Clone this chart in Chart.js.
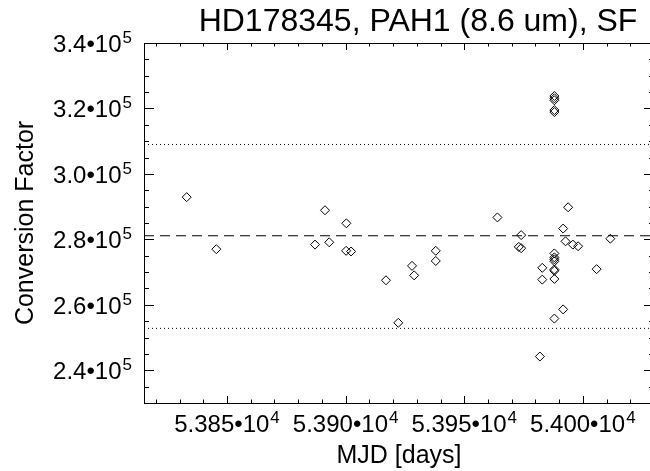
<!DOCTYPE html>
<html>
<head>
<meta charset="utf-8">
<script src="https://cdn.jsdelivr.net/npm/chart.js@4.4.0/dist/chart.umd.min.js"></script>
<style>
  html, body { margin: 0; padding: 0; background: #fff; overflow: hidden; }
  #wrap { width: 650px; height: 471px; overflow: hidden; }
</style>
</head>
<body>
<div id="wrap"><canvas id="chart" width="660" height="471"></canvas></div>
<script>
const mjd = [
  53833, 53845.5, 53891.3, 53900.3, 53887.1, 53893.1, 53900.2, 53902.3,
  53917, 53922.2, 53928, 53928.9, 53938, 53938, 53964, 53974, 53973, 53974,
  53982.9, 53982.9, 53981.9,
  53988, 53988, 53988, 53988, 53988, 53988, 53988, 53988,
  53988, 53988, 53988, 53988, 53988,
  53991.7, 53991.7, 53993.8, 53992.7, 53995.8, 53998, 54005.8, 54011.6
];
const factor = [
  292900, 277000, 288900, 284900, 278400, 279100, 276500, 276300,
  267500, 254500, 271900, 269000, 276500, 273400, 286700, 281300, 277700, 277300,
  271300, 267700, 244200,
  275700, 274500, 273900, 273300, 270800, 270400, 267900, 255800,
  323800, 323100, 322500, 319500, 318900,
  258600, 283300, 289800, 279400, 278400, 277900, 270900, 280200
];

// mean and +/- limits
const meanValue = 281100;
const upperLimit = 309000;
const lowerLimit = 252800;

const xTicks = [53850, 53900, 53950, 54000];
const yTicks = [240000, 260000, 280000, 300000, 320000, 340000];
const xRange = [53815, 54030];
const yRange = [230000, 340000];
const xMinorStep = 10;
const yMinorStep = 5000;

const titleText = 'HD178345, PAH1 (8.6 um), SF';
const FONT = '"Liberation Sans", Arial, Helvetica, sans-serif';

function hline(value, dash) {
  return {
    type: 'line',
    data: [{ x: xRange[0], y: value }, { x: xRange[1], y: value }],
    borderColor: '#000',
    borderWidth: 1,
    borderDash: dash,
    pointRadius: 0,
    fill: false,
  };
}

// "a•10" with a raised exponent
function drawPow(ctx, main, exp, x, baseline, align) {
  ctx.font = '24px ' + FONT;
  const w1 = ctx.measureText(main).width;
  ctx.font = '17px ' + FONT;
  const w2 = ctx.measureText(exp).width + 1;
  const total = w1 + w2;
  let left = x;
  if (align === 'right') left = x - total;
  if (align === 'center') left = x - total / 2;
  ctx.textAlign = 'left';
  ctx.textBaseline = 'alphabetic';
  ctx.font = '24px ' + FONT;
  ctx.fillText(main, left, baseline);
  ctx.font = '17px ' + FONT;
  ctx.fillText(exp, left + w1 + 1, baseline - 9);
}

// box, inward ticks on all four sides, tick labels and the title
const framePlugin = {
  id: 'frame',
  afterDraw(chart) {
    const { ctx, chartArea: a, scales } = chart;
    const xs = scales.x, ys = scales.y;
    ctx.save();
    ctx.strokeStyle = '#000';
    ctx.lineWidth = 1;
    ctx.strokeRect(a.left + 0.5, a.top + 0.5, a.right - a.left, a.bottom - a.top);

    ctx.beginPath();
    for (let v = xRange[0] - (xRange[0] % xMinorStep); v <= xRange[1]; v += xMinorStep) {
      if (v < xRange[0]) continue;
      const len = v % 50 === 0 ? 7 : 3.5;
      const px = Math.round(xs.getPixelForValue(v)) + 0.5;
      ctx.moveTo(px, a.bottom); ctx.lineTo(px, a.bottom - len);
      ctx.moveTo(px, a.top); ctx.lineTo(px, a.top + len);
    }
    for (let v = yRange[0]; v <= yRange[1]; v += yMinorStep) {
      const len = v % 20000 === 0 ? 10 : 5;
      const py = Math.round(ys.getPixelForValue(v)) + 0.5;
      ctx.moveTo(a.left, py); ctx.lineTo(a.left + len, py);
      ctx.moveTo(a.right, py); ctx.lineTo(a.right - len, py);
    }
    ctx.stroke();

    ctx.fillStyle = '#000';
    for (const v of yTicks) {
      const py = ys.getPixelForValue(v);
      drawPow(ctx, (v / 1e5).toFixed(1) + '•10', '5', a.left - 12, py + 9, 'right');
    }
    for (const v of xTicks) {
      const px = xs.getPixelForValue(v);
      drawPow(ctx, (v / 1e4).toFixed(3) + '•10', '4', px, a.bottom + 29, 'center');
    }

    ctx.font = '32px ' + FONT;
    ctx.textAlign = 'center';
    ctx.textBaseline = 'alphabetic';
    ctx.fillText(titleText, 418, 31);
    ctx.restore();
  },
};

new Chart(document.getElementById('chart'), {
  type: 'scatter',
  data: {
    datasets: [
      {
        label: 'SF',
        data: mjd.map((m, i) => ({ x: m, y: factor[i] })),
        pointStyle: 'rectRot',
        pointRadius: 4.5,
        borderColor: '#000',
        backgroundColor: 'rgba(0,0,0,0)',
        borderWidth: 1,
      },
      hline(meanValue, [10, 6]),
      hline(upperLimit, [1, 3]),
      hline(lowerLimit, [1, 3]),
    ],
  },
  plugins: [framePlugin],
  options: {
    responsive: false,
    devicePixelRatio: 1,
    animation: false,
    layout: { padding: { left: 0, right: 6, top: 43, bottom: 0 } },
    plugins: { legend: { display: false }, tooltip: { enabled: false } },
    scales: {
      x: {
        type: 'linear',
        min: xRange[0],
        max: xRange[1],
        grid: { display: false, drawTicks: false },
        border: { display: false },
        afterBuildTicks: (scale) => { scale.ticks = xTicks.map((v) => ({ value: v })); },
        afterFit: (scale) => { scale.height = 68; },
        ticks: { display: false },
        title: {
          display: true,
          text: 'MJD [days]',
          color: '#000',
          font: { family: FONT, size: 25 },
          padding: { top: 0, bottom: 0 },
        },
      },
      y: {
        type: 'linear',
        min: yRange[0],
        max: yRange[1],
        grid: { display: false, drawTicks: false },
        border: { display: false },
        afterBuildTicks: (scale) => { scale.ticks = yTicks.map((v) => ({ value: v })); },
        afterFit: (scale) => { scale.width = 144; },
        ticks: { display: false },
        title: {
          display: true,
          text: 'Conversion Factor',
          color: '#000',
          font: { family: FONT, size: 25 },
          padding: { top: 11, bottom: 0 },
        },
      },
    },
  },
});
</script>
</body>
</html>
